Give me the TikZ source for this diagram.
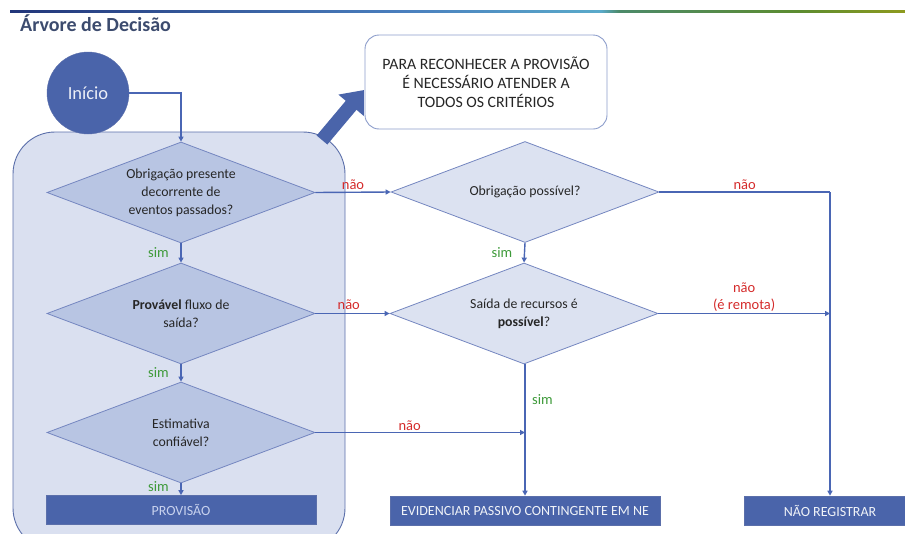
\documentclass[tikz,border=0pt]{standalone}
\usepackage{fontspec}
\setmainfont{Carlito}
\usetikzlibrary{shapes.geometric,arrows.meta}

\definecolor{azul}{HTML}{4A64AA}
\definecolor{caixafundo}{HTML}{DAE0F0}
\definecolor{caixaborda}{HTML}{5B6FAA}
\definecolor{losangoA}{HTML}{B8C5E3}
\definecolor{losangoB}{HTML}{DCE2F1}
\definecolor{losangoborda}{HTML}{7486C0}
\definecolor{linha}{HTML}{4A66B4}
\definecolor{vermelho}{HTML}{D42A2A}
\definecolor{verde}{HTML}{3E9A3A}
\definecolor{tituloazul}{HTML}{3C4B6E}
\definecolor{notaborda}{HTML}{8C9DCB}
\definecolor{texto}{HTML}{262626}
\definecolor{textoprov}{HTML}{C8D2EE}
\definecolor{barA}{HTML}{22367A}
\definecolor{barB}{HTML}{4A7FBE}
\definecolor{barC}{HTML}{5AAACA}
\definecolor{barD}{HTML}{4C8A6A}
\definecolor{barE}{HTML}{5C8C30}
\definecolor{barF}{HTML}{8E9A1E}

\pgfdeclarehorizontalshading{barratopo}{100bp}{color(0bp)=(barA); color(25bp)=(barA);
  color(47bp)=(barB); color(58bp)=(barC); color(59bp)=(barD); color(69bp)=(barE);
  color(75bp)=(barF); color(100bp)=(barF)}

\tikzset{
  conector/.style={draw=linha, line width=1.4pt, -{Triangle[length=5pt,width=5pt]}},
  ligacao/.style={draw=linha, line width=1.4pt},
  pergunta/.style={diamond, draw=losangoborda, line width=0.8pt, aspect=2.65,
    inner sep=0pt, minimum width=268pt, minimum height=101pt, align=center,
    text=texto, font=\fontsize{13.8}{18}\selectfont},
  resultado/.style={rectangle, fill=azul, draw=caixaborda, line width=0.6pt,
    minimum height=29pt, inner sep=0pt, text=white!92!azul,
    font=\fontsize{14}{16}\selectfont},
  nao/.style={text=vermelho, font=\fontsize{14.5}{17}\selectfont, inner sep=1.5pt, align=center},
  sim/.style={text=verde, font=\fontsize{14.5}{17}\selectfont, inner sep=1.5pt},
}

\begin{document}
\begin{tikzpicture}[x=1pt,y=-1pt]
  \useasboundingbox (0,0) rectangle (905,533);
  % faixa e titulo
  \shade[shading=barratopo] (10,10) rectangle (905,12.2);
  \node[anchor=west, text=tituloazul, font=\bfseries\fontsize{20}{22}\selectfont, inner sep=0pt]
    (titulo) at (20,23.5) {Árvore de Decisão};

  % caixa da provisao
  \draw[fill=caixafundo, draw=caixaborda, line width=0.9pt, rounded corners=42pt]
    (13,132) rectangle (345,550);

  % nota
  \node[rectangle, draw=notaborda, fill=white, line width=0.9pt, rounded corners=14pt,
    minimum width=242pt, minimum height=94pt, align=center, text=texto,
    font=\fontsize{15.8}{19}\selectfont] (nota) at (486,82)
    {PARA RECONHECER A PROVISÃO\\É NECESSÁRIO ATENDER A\\TODOS OS CRITÉRIOS};
  \coordinate (seta ini) at (322,140);
  \coordinate (seta fim) at (364,90);
  \draw[draw=azul, line width=14pt, -{Triangle[width=32pt,length=20pt]}] (seta ini) -- (seta fim);

  % inicio
  \node[circle, fill=azul, draw=caixaborda, minimum size=82pt, inner sep=0pt,
    text=white!90!azul, font=\fontsize{18.5}{20}\selectfont] (inicio) at (88,93) {Início};

  % perguntas
  \node[pergunta, fill=losangoA] (d1) at (181,192.5) {Obrigação presente\\decorrente de\\eventos passados?};
  \node[pergunta, fill=losangoA] (d2) at (181,313.5) {\textbf{Provável} fluxo de\\saída?};
  \node[pergunta, fill=losangoA] (d3) at (181,432.5) {Estimativa\\confiável?};
  \node[pergunta, fill=losangoB] (d4) at (525,192) {Obrigação possível?};
  \node[pergunta, fill=losangoB] (d5) at (524,313.5) {Saída de recursos é\\\textbf{possível}?};

  % resultados
  \node[resultado, minimum width=270pt, text=textoprov] (prov) at (181,510) {PROVISÃO};
  \node[resultado, minimum width=270pt] (evid) at (525,510.5) {EVIDENCIAR PASSIVO CONTINGENTE EM NE};
  \node[resultado, minimum width=172pt] (nreg) at (830,510.5) {NÃO REGISTRAR};

  % ligacoes
  \draw[conector] (inicio.east) -| (d1.north);
  \draw[conector] (d1.south) -- node[sim, left, xshift=-10pt] {sim} (d2.north);
  \draw[conector] (d2.south) -- node[sim, left, xshift=-10pt] {sim} (d3.north);
  \draw[conector] (d3.south) -- node[sim, left, xshift=-10pt, yshift=3pt] {sim} (prov.north);
  \draw[conector] (d1.east) -- node[nao, above] {não} (d4.west);
  \draw[conector] (d2.east) -- node[nao, above, pos=0.45, yshift=2pt] {não} (d5.west);
  \draw[conector] (d4.south) -- node[sim, left, xshift=-10pt] {sim} (d5.north);
  \draw[conector] (d5.south -| evid.north) -- node[sim, right, pos=0.27, xshift=5pt] {sim} (evid.north);
  \coordinate (junta evid) at (d3.east -| evid.north);
  \draw[conector] (d3.east) -- node[nao, above, pos=0.45] {não} (junta evid);
  \coordinate (canto) at (d4.east -| nreg.north);
  \draw[ligacao] (d4.east) -- node[nao, above] {não} (canto);
  \draw[conector] (canto) -- (nreg.north);
  \coordinate (junta nreg) at (d5.east -| nreg.north);
  \draw[conector] (d5.east) -- node[nao, above] {não\\(é remota)} (junta nreg);
\end{tikzpicture}
\end{document}
